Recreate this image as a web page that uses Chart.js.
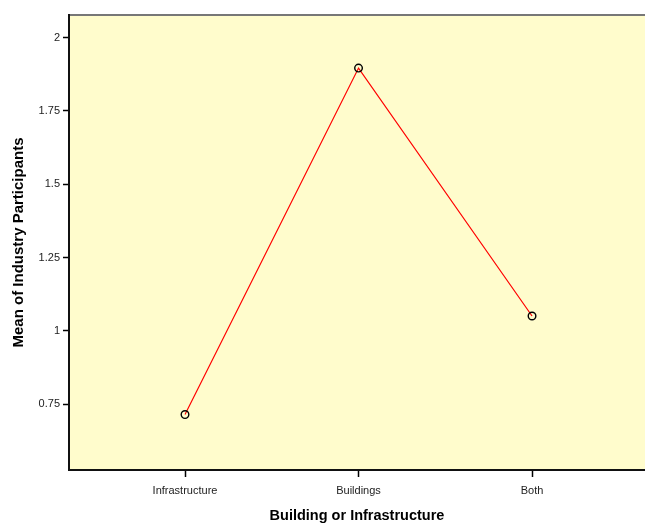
<!DOCTYPE html>
<html>
<head>
<meta charset="utf-8">
<script src="https://cdn.jsdelivr.net/npm/chart.js@4"></script>
<style>
  html, body { margin: 0; padding: 0; background: #fff; overflow: hidden; }
  #wrap { width: 645px; height: 523px; }
</style>
</head>
<body>
<div id="wrap"><canvas id="myChart" width="645" height="523"></canvas></div>
<script>
var categories = ["Infrastructure", "Buildings", "Both"];
var means = [0.715, 1.896, 1.051];
var yTicks = [0.75, 1, 1.25, 1.5, 1.75, 2];

var points = means.map(function(v, i){ return {x: i, y: v}; });

var plotBg = {
	id: 'plotBg',
	beforeDraw: function(chart){
		var c = chart.ctx, a = chart.chartArea;
		c.save();
		c.fillStyle = '#fff';
		c.fillRect(0, 0, chart.width, chart.height);
		c.fillStyle = '#fffccc';
		c.fillRect(a.left, a.top, a.right - a.left, a.bottom - a.top);
		c.strokeStyle = '#777';
		c.lineWidth = 2;
		c.beginPath();
		c.moveTo(a.left, a.top);
		c.lineTo(a.right, a.top);
		c.stroke();
		c.restore();
	}
};

var ctx = document.getElementById('myChart').getContext('2d');
new Chart(ctx, {
	type: 'line',
	data: {
		datasets: [{
			data: points,
			borderColor: '#ff0000',
			borderWidth: 1.2,
			pointRadius: 3.8,
			pointBorderColor: '#000',
			pointBackgroundColor: 'rgba(0,0,0,0)',
			pointBorderWidth: 1.4,
			tension: 0
		}]
	},
	options: {
		responsive: false,
		animation: false,
		layout: { autoPadding: false, padding: { top: 15, right: 0, left: 0, bottom: 0 } },
		plugins: { legend: { display: false }, tooltip: { enabled: false } },
		scales: {
			x: {
				type: 'linear',
				min: -0.6686,
				max: 2.651,
				afterBuildTicks: function(s){ s.ticks = categories.map(function(c, i){ return {value: i}; }); },
				afterFit: function(s){ s.height = 53; },
				ticks: {
					autoSkip: false,
					maxRotation: 0,
					color: '#222',
					font: { family: 'Liberation Sans', size: 11 },
					padding: 7,
					callback: function(v){ return categories[v]; }
				},
				grid: { drawOnChartArea: false, drawTicks: true, tickLength: 7, color: '#000', tickWidth: 1.5 },
				border: { display: true, color: '#111', width: 2 },
				title: {
					display: true,
					text: 'Building or Infrastructure',
					color: '#000',
					font: { family: 'Liberation Sans', size: 14.5, weight: 'bold' },
					padding: { top: 0, bottom: -2 }
				}
			},
			y: {
				min: 0.526,
				max: 2.077,
				afterBuildTicks: function(s){ s.ticks = yTicks.map(function(v){ return {value: v}; }); },
				afterFit: function(s){ s.width = 69; },
				ticks: {
					color: '#222',
					font: { family: 'Liberation Sans', size: 11 },
					padding: 3,
					callback: function(v){ return String(v); }
				},
				grid: { drawOnChartArea: false, drawTicks: true, tickLength: 6, color: '#000', tickWidth: 1.5 },
				border: { display: true, color: '#111', width: 2 },
				title: {
					display: true,
					text: 'Mean of Industry Participants',
					color: '#000',
					font: { family: 'Liberation Sans', size: 15, weight: 'bold' },
					padding: { top: 10, bottom: 0 }
				}
			}
		}
	},
	plugins: [plotBg]
});
</script>
</body>
</html>
